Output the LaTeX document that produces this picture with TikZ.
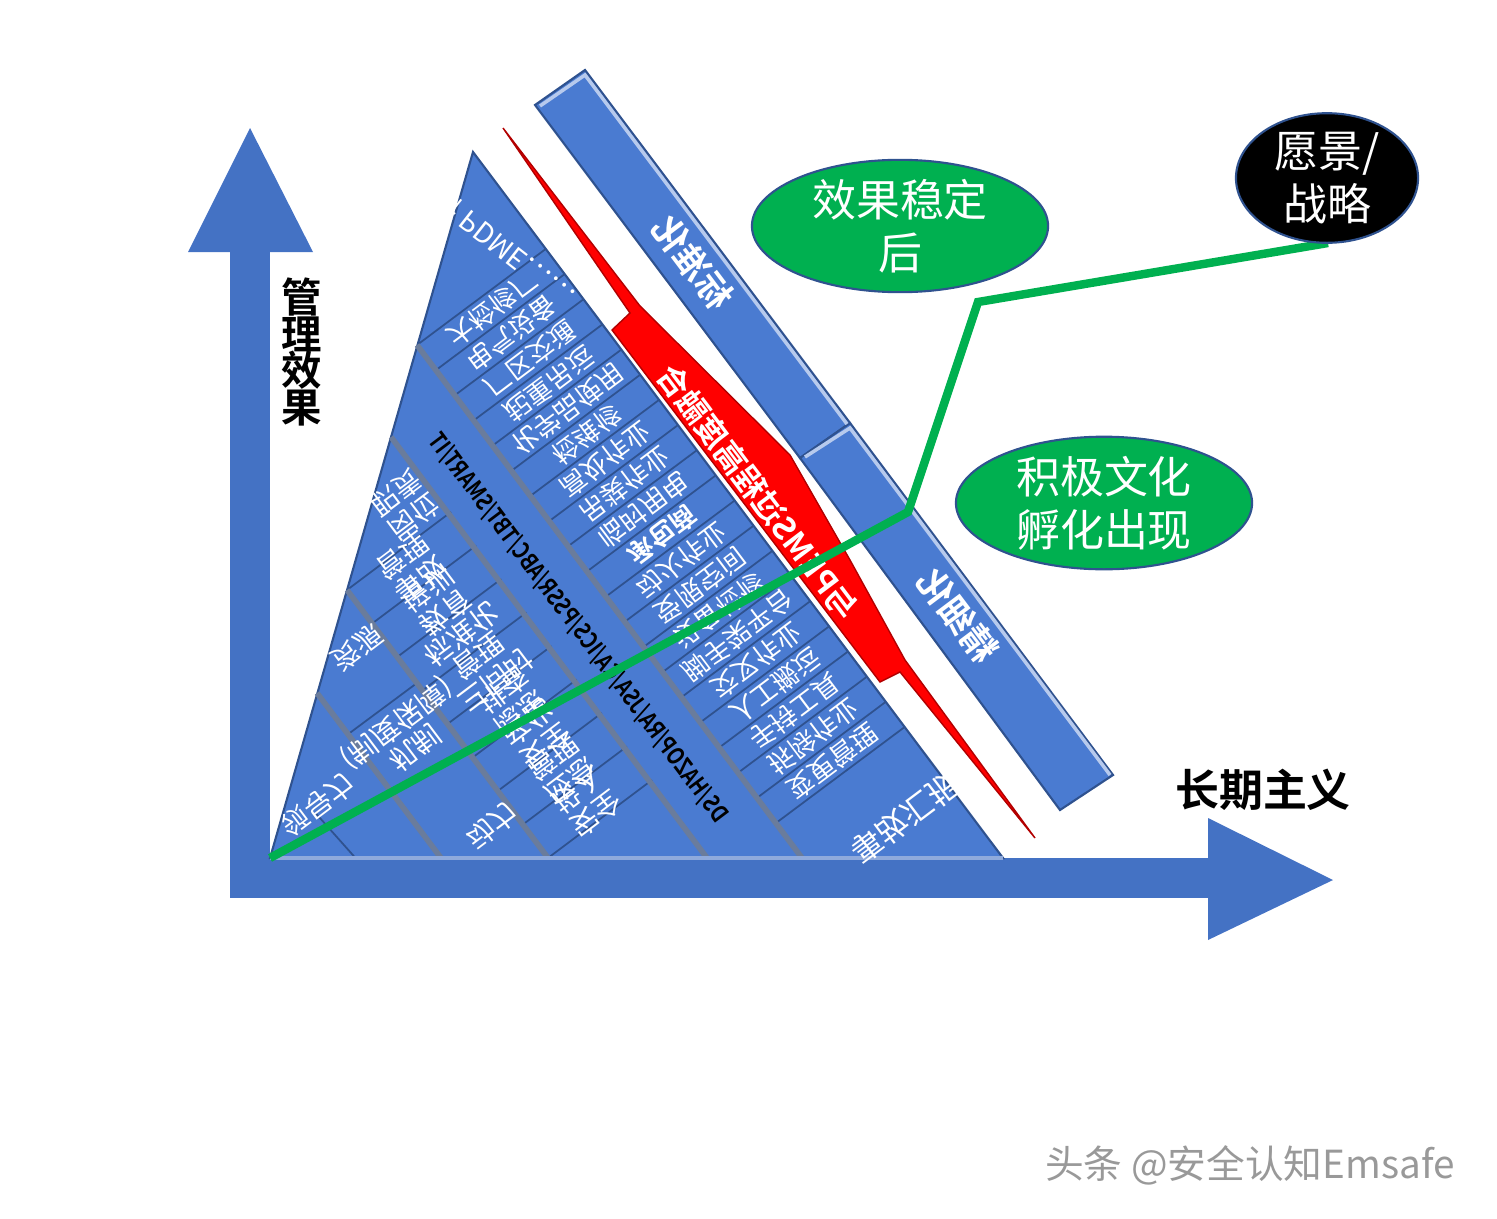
\documentclass[tikz,border=0pt]{standalone}
\usepackage{fontspec}
\setmainfont{Noto Sans CJK SC}[BoldFont={Noto Sans CJK SC Bold}]
\usetikzlibrary{calc,shapes.geometric}
\definecolor{axisblue}{HTML}{4472C4}
\definecolor{panel}{HTML}{4A7BD1}
\definecolor{edge}{HTML}{2F528F}
\definecolor{groove}{HTML}{6A7C9C}
\definecolor{lgreen}{HTML}{00B050}
\definecolor{rred}{HTML}{FF0000}
\begin{document}
\begin{tikzpicture}[x=0.01cm,y=-0.01cm,
  rowtxt/.style={rotate=37,yscale=-1,text=white,font=\fontsize{7.5}{8}\selectfont},
  bigtxt/.style={rotate=37,yscale=-1,text=white,align=center,font=\fontsize{8}{8.5}\selectfont},
  alongtxt/.style={rotate=127,yscale=-1,font=\bfseries\fontsize{9}{10}\selectfont},
  ell/.style={ellipse,draw=edge,line width=0.6pt,fill=lgreen,text=white,align=center,inner sep=0pt,font=\fontsize{12.5}{15}\selectfont},
  rowline/.style={draw=edge,line width=0.5pt},
  sepline/.style={draw=groove,line width=1.6pt}]
\useasboundingbox (0,0) rectangle (1497,1218);
% axes
\fill[axisblue] (230,250) rectangle (270,898);
\fill[axisblue] (188,252) -- (250,128) -- (313,252) -- cycle;
\fill[axisblue] (230,858) rectangle (1210,898);
\fill[axisblue] (1208,818) -- (1333,880) -- (1208,940) -- cycle;
\node[font=\bfseries\fontsize{11.5}{10.5}\selectfont,align=center] (ylab) at (302,352) {管\\理\\效\\果};
\node[font=\bfseries\fontsize{12.5}{14}\selectfont] (xlab) at (1263,790) {长期主义};
% triangle
\coordinate (O) at (270,858);
\coordinate (A) at (473,152);
\coordinate (R) at (1003,858);
\coordinate (L1) at (417,345); \coordinate (B1) at (802,858);
\coordinate (L2) at (391,437); \coordinate (B2) at (707,858);
\coordinate (L3) at (347,590); \coordinate (B3) at (548,858);
\coordinate (L4) at (317,693); \coordinate (B4) at (441,858);
\fill[panel,draw=edge,line width=0.6pt] (O) -- (A) -- (R) -- cycle;
\begin{scope}
\clip (O) -- (A) -- (R) -- cycle;
\foreach \i in {0,...,19}{
  \draw[rowline] ($(L1)!{\i/19*0.932}!(B1)$) -- ++(130,-97);
}
\foreach \i in {0,...,8}{
  \draw[rowline] ($(L3)!{\i/8}!(B3)$) -- ++(104,-78);
}
\draw[rowline] ($(L4)!0.25!(B4)$) -- ++(70,-52);
\draw[rowline] ($(O)!0.5!(B4)$) -- ++(-40,-45);
\end{scope}
\draw[sepline] (L1) -- (B1);
\draw[sepline] (L2) -- (B2);
\draw[sepline] (L3) -- (B3);
\draw[sepline] (L4) -- (B4);
\draw[draw=axisblue!60!white,line width=1.2pt] (O) -- (R);
% row texts of right panel
\foreach \t [count=\i from 0] in {大检修厂,电气设备,厂区交通,起重吊运,化学品使用,检维修,高处作业,吊装作业,临时用电,{\bfseries 承包商},动火作业,受限空间,设备检修,脚手架平台,交叉作业,人工搬运,手持工具,拆除作业,变更管理}{
  \node[rowtxt] (r\i) at ($(L1)!{(\i+0.5)/19*0.932}!(B1)+(66,-49)$) {\t};
}
\node[rowtxt,font=\fontsize{9}{10}\selectfont] (rlast) at (905,818) {事故汇报};
\node[rowtxt,rotate=75,font=\fontsize{8}{9}\selectfont] (apex) at (492,240) {创新 PDME……};
% panel 3 texts
\node[bigtxt] (p3t) at (405,505) {岗位\\职责};
\foreach \t [count=\i from 0] in {{事故\\管理},{教育\\培训},标准化,{三同时\\管理},{隐患\\排查},{安全\\文化},{应急\\管理},{安全\\投入}}{
  \node[bigtxt] (q\i) at ($(L3)!{(\i+0.5)/8}!(B3)+(52,-39)$) {\t};
}
% panel 4 and 5 texts
\node[bigtxt] (p4a) at (357,648) {资源};
\node[bigtxt] (p4b) at (405,735) {机制\\(制度保障)};
\node[bigtxt] (p4c) at (492,826) {动力};
\node[bigtxt] (p5) at (318,805) {领导力};
% panel 2 text
\node[alongtxt,xscale=0.8,text=black,font=\bfseries\fontsize{6.8}{8}\selectfont] (ds) at (578,628) {DS/HAZOP/RA/JSA/CA/ICS/PSSR/ABC/TBT/SMART/IT};
% red shape
\fill[rred,draw=rred!70!black,line width=0.4pt] (503,128) -- (640,306) -- (790,455) -- (850,560) -- (905,660) -- (1035,838) -- (900,672) -- (880,682) -- (612,330) -- (630,313) -- cycle;
\node[alongtxt,text=white] (redt) at (758,492) {与PEMS过程高度融合};
% bands
\fill[panel,draw=edge,line width=0.6pt] (535,105) -- (585,70) -- (850,423) -- (800,458) -- cycle;
\fill[panel,draw=edge,line width=0.6pt] (800,458) -- (850,423) -- (1113,775) -- (1060,810) -- cycle;
\draw[white!60!panel,line width=1pt] (540,106) -- (585,75) -- (847,424);
\draw[white!60!panel,line width=1pt] (805,457) -- (850,428) -- (1110,775);
\node[alongtxt,text=white,font=\bfseries\fontsize{10}{11}\selectfont] (b1) at (693,262) {标准化};
\node[alongtxt,text=white,font=\bfseries\fontsize{10}{11}\selectfont] (b2) at (958,615) {精细化};
% green line
\coordinate (g1) at (908,512);
\coordinate (g2) at (978,302);
\coordinate (g3) at (1328,243);
\draw[lgreen,line width=2.4pt] (O) -- (g1) -- (g2) -- (g3);
% ellipses
\node[ell,minimum width=2.96cm,minimum height=1.28cm] (e1) at (900,226) {效果稳定\\后};
\node[ell,minimum width=2.96cm,minimum height=1.28cm] (e2) at (1104,503) {积极文化\\孵化出现};
\node[ell,fill=black,minimum width=1.82cm,minimum height=1.28cm] (e3) at (1327,178) {愿景/\\战略};
% watermark
\node[text=gray!80,font=\fontsize{11}{12}\selectfont] (wm) at (1250,1165) {头条 @安全认知Emsafe};
\end{tikzpicture}
\end{document}
